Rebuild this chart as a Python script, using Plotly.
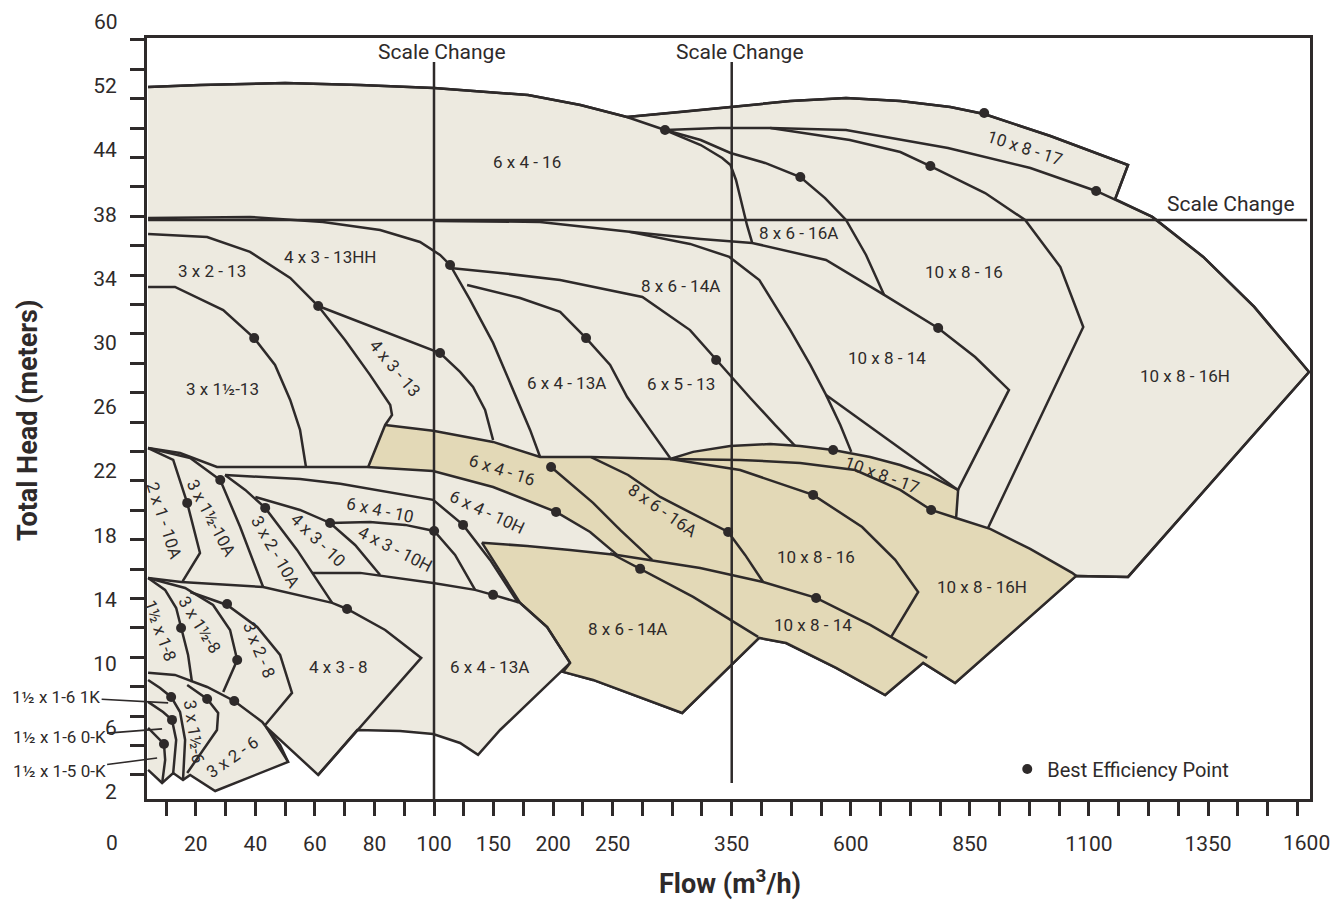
import numpy as np
import plotly.graph_objects as go

INK = "#2e2a2a"
LIGHT = "#edeae0"
TAN = "#e3d9b7"
FONT = "Roboto, Liberation Sans, Arial, sans-serif"

# ---------------- axes (the chart uses a piecewise "scale change" axis) -------------
FLOW_TICKS = [20, 40, 60, 80, 100, 150, 200, 250, 350, 600, 850, 1100, 1350]
HEAD_TICKS = [2, 6, 10, 14, 18, 22, 26, 30, 34, 38, 44, 52, 60]
FLOW_BREAKS = [0, 100, 350, 1600]
FLOW_STEPS = [0, 10, 20, 40]
FLOW_RANGE = [3.6, 1564]
HEAD_RANGE = [1.56, 57.96]


def fx(v):
    return np.interp(np.asarray(v, float), FLOW_BREAKS, FLOW_STEPS)


def fy(v):
    v = np.asarray(v, float)
    idx = np.arange(len(HEAD_TICKS), dtype=float)
    return np.where(v < HEAD_TICKS[0], (v - HEAD_TICKS[0]) / 4.0,
                    np.interp(v, HEAD_TICKS, idx))


# ---------------- coverage envelopes (flow m3/h, head m) ----------------
LIGHT_FLOW = [3.96, 21.4, 50.0, 75.2, 100, 179, 223, 262, 307, 349, 473, 590, 704, 809, 880, 1019,
              1182, 1155, 1233, 1340, 1447, 1562, 1182, 1073, 819, 785.5, 751.9, 672.1, 569.2,
              464.2, 407.5, 308.4, 262.2, 233.6, 208.4, 214.3, 155.5, 137.0, 121.9, 99.7, 88.6,
              74.2, 61.1, 43.6, 51.0, 26.5, 18.1, 15.7, 12.4, 8.67, 3.96]
LIGHT_HEAD = [51.85, 52.10, 52.35, 52.10, 51.73, 50.85, 49.61, 48.11, 48.73, 49.36, 50.11, 50.48,
              50.11, 49.36, 48.49, 45.74, 42.60, 39.42, 37.83, 35.34, 32.22, 28.17, 15.40, 15.46,
              8.79, 9.42, 10.04, 8.04, 9.73, 11.28, 11.60, 6.92, 8.17, 8.98, 9.48, 10.04, 5.86,
              4.31, 5.05, 5.61, 5.80, 5.86, 3.06, 6.05, 3.87, 2.06, 3.06, 2.75, 3.18, 2.56, 3.37]

TAN_FLOW = [83.6, 99.7, 149.6, 189.1, 231.9, 298.3, 317.6, 348.7, 430.6, 493.6, 562.9, 640.6,
            703.6, 766.6, 825.3, 821.1, 892.5, 976.5, 1064.7, 1073.1, 819.0, 785.5, 751.9, 672.1,
            569.2, 464.2, 407.5, 308.4, 262.2, 233.6, 208.4, 214.3, 195.0, 172.3, 140.4, 178.2,
            214.3, 253.8, 231.1, 202.5, 149.6, 99.7, 77.5]
TAN_HEAD = [24.87, 24.50, 23.81, 22.87, 22.87, 22.75, 23.19, 23.56, 23.68, 23.56, 23.31, 22.87,
            22.37, 21.69, 20.82, 19.07, 18.39, 17.14, 15.65, 15.46, 8.79, 9.42, 10.04, 8.04, 9.73,
            11.28, 11.60, 6.92, 8.17, 8.98, 9.48, 10.04, 12.28, 13.78, 17.52, 17.33, 17.08, 16.77,
            18.20, 19.45, 21.00, 22.00, 22.25]

# ---------------- pump curves (flow list, head list) ----------------
C_6X4_16_TOP = ([3.96, 21.4, 50.0, 75.2, 100, 179, 223, 262, 294],
                [51.85, 52.10, 52.35, 52.10, 51.73, 50.85, 49.61, 48.11, 46.49])
C_6X4_16_RIGHT = ([294, 324, 342, 349, 359, 372, 382, 393],
                  [46.49, 44.62, 43.25, 42.60, 41.20, 38.86, 37.33, 36.21])
C_8X6_16A_RIGHT = ([294, 324, 349, 420, 494, 546, 590, 632, 670],
                   [46.49, 45.25, 43.72, 42.79, 41.48, 39.51, 37.64, 35.46, 32.97])
C_10X8_16_RIGHT = ([294, 339, 431, 598, 704, 767, 882, 966, 1040, 1088, 888],
                   [46.49, 46.74, 46.74, 45.25, 43.81, 42.50, 39.98, 37.64, 34.71, 30.97, 18.45])
C_10X8_16H_TOP = ([431, 590, 804, 977, 1115, 1233, 1340, 1447, 1562, 1182, 1073],
                  [46.74, 46.49, 44.25, 42.32, 40.17, 37.83, 35.34, 32.22, 28.17, 15.40, 15.46])
C_10X8_17_TOP = ([262, 307, 349, 473, 590, 704, 809, 880, 1019, 1182, 1155],
                 [48.11, 48.73, 49.36, 50.11, 50.48, 50.11, 49.36, 48.49, 45.74, 42.60, 39.42])
C_4X3_13HH = ([3.96, 38.2, 62.7, 81.9, 95.3, 105.1, 113.5, 130.3, 149.6, 168.1, 180.7, 189.1],
              [37.77, 37.83, 37.52, 37.02, 36.27, 35.46, 34.84, 32.66, 29.98, 26.74, 24.56, 22.87])
C_10X8_14_TOP = ([100, 189, 264, 324, 393, 548, 670, 783, 861, 932, 825],
                 [37.58, 37.52, 36.90, 36.46, 36.21, 35.15, 32.97, 30.91, 29.10, 27.05, 20.82])
C_8X6_14A_RIGHT = ([264, 315, 348, 408, 473, 515, 548, 578, 601],
                   [36.90, 36.15, 35.34, 33.90, 30.78, 28.61, 26.74, 24.87, 23.19])
C_10X8_14_EDGE = ([548, 825], [26.74, 20.82])
C_6X5_13 = ([113.5, 155.5, 205.9, 275, 315, 337, 389, 441, 483],
            [34.65, 34.34, 33.90, 32.84, 30.78, 28.92, 26.55, 24.87, 23.56])
C_6X4_13A = ([127.8, 172.3, 205.9, 227.7, 247.9, 262.2, 281.5, 298.3],
             [33.59, 32.78, 31.91, 30.28, 28.61, 26.61, 24.56, 22.81])
C_4X3_13 = ([61.1, 79.5, 105.1, 121.9, 132.8, 142.9, 149.6],
            [32.28, 30.97, 29.35, 28.17, 27.24, 25.80, 23.93])
C_3X2_13 = ([3.96, 23.8, 38.2, 51.7, 61.1, 70.1, 78.5, 85.3, 85.9, 83.6, 77.9],
            [36.77, 36.58, 35.65, 34.03, 32.28, 30.16, 27.99, 26.11, 25.49, 24.87, 22.25])
C_3X1H_13 = ([3.96, 13.0, 29.2, 39.6, 46.6, 51.7, 55.0, 57.0],
             [33.47, 33.47, 32.03, 30.28, 28.61, 26.43, 24.56, 22.25])
C_13_BASE = ([3.96, 14.7, 27.1, 55.0, 77.5], [23.43, 23.12, 22.25, 22.25, 22.25])

C_2X1_10A = ([3.96, 12.4, 17.1, 21.4, 15.4], [23.43, 22.69, 20.01, 16.89, 15.08])
C_3X1H_10A = ([3.96, 18.1, 28.2, 34.9, 42.6], [23.43, 22.81, 21.44, 18.51, 14.77])
C_3X2_10A = ([29.8, 36.6, 43.3, 54.0, 65.8], [21.75, 20.82, 19.70, 17.08, 13.78])
C_4X3_10 = ([40.0, 55.0, 65.1, 73.5, 81.9], [20.38, 19.57, 18.76, 17.39, 15.52])
C_4X3_10H = ([65.1, 78.5, 90.3, 100.1, 117.7, 134.5], [18.76, 18.82, 18.64, 18.26, 16.77, 14.59])
C_6X4_10 = ([29.8, 55.0, 68.5, 99.7, 124.4, 147.1, 170.6],
            [21.75, 21.50, 21.20, 20.20, 18.64, 16.46, 13.78])
C_6X4_13A_LOW = ([59.0, 75.2, 99.7, 134.5, 149.6, 172.3, 195.0, 214.3],
                 [15.65, 15.65, 15.02, 14.59, 14.28, 13.78, 12.28, 10.04])
C_4X3_8 = ([3.96, 15.05, 42.6, 65.8, 70.8, 83.6, 95.7, 61.1],
           [15.33, 15.08, 14.77, 13.78, 13.40, 12.09, 10.35, 3.06])
C_3X1H_8 = ([3.96, 16.4, 25.8, 31.5, 33.9, 29.2], [15.33, 14.71, 13.65, 12.09, 10.22, 8.23])
C_1HX1_8 = ([3.96, 9.67, 13.4, 15.05, 17.4, 18.7], [15.33, 14.59, 13.46, 12.22, 10.54, 8.85])
C_3X2_8 = ([18.1, 30.5, 40.6, 48.3, 52.3, 43.3], [14.46, 13.65, 12.28, 10.54, 8.17, 6.17])
C_3X2_6 = ([3.96, 13.0, 23.8, 32.9, 42.3, 48.3, 51.0], [9.42, 9.29, 8.54, 7.67, 6.36, 4.93, 3.87])
C_3X1H_6 = ([17.1, 23.8, 27.5, 27.1, 17.1], [8.67, 7.79, 6.92, 5.86, 3.18])
C_1HX1_6_1K = ([3.96, 8.0, 11.7, 14.7, 16.4, 15.7], [8.98, 8.48, 7.92, 6.98, 5.24, 2.75])
C_1HX1_6_0K = ([3.96, 9.0, 12.0, 13.4, 12.4], [7.61, 6.98, 6.49, 5.24, 3.18])
C_1HX1_5_0K = ([3.96, 7.3, 9.3, 9.7, 8.7], [5.99, 5.36, 4.99, 3.99, 2.56])

C_6X4_16_LOW = ([198.3, 233.6, 256.3, 283.2], [22.25, 20.01, 18.33, 16.46])
C_8X6_14A_TOP = ([247.9, 273.1, 317.6, 405.4], [16.89, 15.90, 14.15, 11.66])
C_10X8_14_LOWTOP = ([253.8, 323.5, 415.9, 527.2, 640.6, 760.3],
                    [16.77, 15.96, 15.08, 14.09, 12.41, 10.35])
C_8X6_16A_LOW = ([231.9, 263.0, 289.9, 347.0, 378.1, 415.9],
                 [22.87, 21.75, 20.38, 18.20, 16.77, 15.08])
C_10X8_16_LOW = ([298.3, 367.6, 520.9, 623.8, 693.1, 741.4, 684.7],
                 [22.75, 22.06, 20.51, 18.51, 16.46, 14.46, 11.66])
C_10X8_16H_LOW = ([298.3, 367.6, 493.6, 609.1, 703.6, 768.7, 821.1],
                  [22.75, 22.69, 22.50, 22.06, 20.82, 19.57, 19.07])

CURVES = [C_6X4_16_TOP, C_6X4_16_RIGHT, C_8X6_16A_RIGHT, C_10X8_16_RIGHT, C_10X8_16H_TOP,
          C_10X8_17_TOP, C_4X3_13HH, C_10X8_14_TOP, C_8X6_14A_RIGHT, C_10X8_14_EDGE, C_6X5_13,
          C_6X4_13A, C_4X3_13, C_3X2_13, C_3X1H_13, C_13_BASE, C_2X1_10A, C_3X1H_10A, C_3X2_10A,
          C_4X3_10, C_4X3_10H, C_6X4_10, C_6X4_13A_LOW, C_4X3_8, C_3X1H_8, C_1HX1_8, C_3X2_8,
          C_3X2_6, C_3X1H_6, C_1HX1_6_1K, C_1HX1_6_0K, C_1HX1_5_0K, C_6X4_16_LOW, C_8X6_14A_TOP,
          C_10X8_14_LOWTOP, C_8X6_16A_LOW, C_10X8_16_LOW, C_10X8_16H_LOW]

# ---------------- scale change lines ----------------
SCALE_CHANGE_FLOWS = [100, 350]
SCALE_CHANGE_V_HEADS = [[1.56, 54.96], [2.56, 54.96]]
SCALE_CHANGE_HEAD = 37.64
SCALE_CHANGE_H_FLOWS = [3.96, 1558]

# ---------------- best efficiency points ----------------
BEP_FLOW = [294, 494, 767, 880, 1115, 113.5, 61.1, 39.6, 105.1, 227.7, 336.9, 783.4, 562.9,
            198.3, 202.5, 520.9, 768.7, 347.0, 273.1, 527.2, 124.4, 100.1, 65.1, 43.3, 28.2,
            17.1, 149.6, 70.8, 30.5, 15.05, 33.9, 11.7, 23.8, 32.9, 12.0, 9.3]
BEP_HEAD = [46.49, 41.48, 42.50, 48.61, 40.17, 34.84, 32.28, 30.28, 29.35, 30.28, 28.92, 30.91,
            23.31, 22.25, 19.45, 20.51, 19.57, 18.20, 15.90, 14.09, 18.64, 18.26, 18.76, 19.70,
            21.44, 20.01, 14.28, 13.40, 13.71, 12.22, 10.22, 7.92, 7.79, 7.67, 6.49, 4.99]

# ---------------- pump labels ----------------
LABEL_TEXT = ["6 x 4 - 16", "8 x 6 - 16A", "10 x 8 - 16", "10 x 8 - 17", "3 x 2 - 13",
              "4 x 3 - 13HH", "8 x 6 - 14A", "3 x 1½-13", "4 x 3 - 13", "6 x 4 - 13A",
              "6 x 5 - 13", "10 x 8 - 14", "10 x 8 - 16H", "6 x 4 - 16", "8 x 6 - 16A",
              "10 x 8 - 17", "10 x 8 - 16", "10 x 8 - 16H", "8 x 6 - 14A", "10 x 8 - 14",
              "6 x 4 - 10H", "6 x 4 - 10", "4 x 3 - 10H", "4 x 3 - 10", "3 x 2 - 10A",
              "3 x 1½-10A", "2 x 1 - 10A", "4 x 3 - 8", "6 x 4 - 13A", "1½ x 1-8", "3 x 1½-8",
              "3 x 2 - 8", "3 x 1½-6", "3 x 2 - 6"]
LABEL_FLOW = [178.2, 489.4, 837.9, 966.0, 25.5, 65.1, 306.7, 28.8, 86.9, 211.0, 307.6, 676.2,
              1301.9, 157.2, 291.6, 665.5, 527.2, 875.8, 262.2, 520.9, 144.6, 81.9, 87.0, 61.1,
              46.6, 25.2, 9.34, 67.8, 146.3, 8.0, 21.4, 41.3, 19.4, 32.2]
LABEL_HEAD = [42.88, 36.83, 34.40, 44.25, 34.46, 35.34, 33.53, 27.11, 28.42, 27.49, 27.42, 29.04,
              27.92, 22.06, 19.57, 21.75, 16.64, 14.77, 12.16, 12.41, 19.45, 19.57, 17.14, 17.70,
              17.00, 19.07, 18.95, 9.79, 9.79, 12.09, 12.41, 10.85, 5.80, 4.18]
LABEL_ANGLE = [0, 0, 0, 18, 0, 0, 0, 0, 50, 0, 0, 0, 0, 18, 35, 20, 0, 0, 0, 0, 25, 12, 27, 44,
               60, 62, 72, 0, 0, 70, 58, 68, 82, -35]

CALLOUT_TEXT = ["1½ x 1-6 1K", "1½ x 1-6 0-K", "1½ x 1-5 0-K"]
CALLOUT_FLOW = [10.7, 8.67, 7.0]
CALLOUT_HEAD = [7.55, 5.93, 4.12]

fig = go.Figure()

fig.add_trace(go.Scatter(x=fx(LIGHT_FLOW), y=fy(LIGHT_HEAD), mode="lines", fill="toself",
                         fillcolor=LIGHT, line=dict(color=INK, width=2.5),
                         hoverinfo="skip", showlegend=False))
fig.add_trace(go.Scatter(x=fx(TAN_FLOW), y=fy(TAN_HEAD), mode="lines", fill="toself",
                         fillcolor=TAN, line=dict(color=INK, width=2.5),
                         hoverinfo="skip", showlegend=False))
for fl, hd in CURVES:
    fig.add_trace(go.Scatter(x=fx(fl), y=fy(hd), mode="lines",
                             line=dict(color=INK, width=2.5), hoverinfo="skip",
                             showlegend=False))

for f, hs in zip(SCALE_CHANGE_FLOWS, SCALE_CHANGE_V_HEADS):
    fig.add_trace(go.Scatter(x=fx([f, f]), y=fy(hs), mode="lines",
                             line=dict(color=INK, width=2.5), hoverinfo="skip",
                             showlegend=False))
fig.add_trace(go.Scatter(x=fx(SCALE_CHANGE_H_FLOWS), y=fy([SCALE_CHANGE_HEAD] * 2), mode="lines",
                         line=dict(color=INK, width=2.5), hoverinfo="skip", showlegend=False))

fig.add_trace(go.Scatter(x=fx(BEP_FLOW), y=fy(BEP_HEAD), mode="markers",
                         marker=dict(color=INK, size=10), name="Best Efficiency Point",
                         hoverinfo="skip", showlegend=True))

ann = []
for t, f, h, a in zip(LABEL_TEXT, LABEL_FLOW, LABEL_HEAD, LABEL_ANGLE):
    ann.append(dict(x=float(fx(f)), y=float(fy(h)), text=t, textangle=a, showarrow=False,
                    font=dict(size=17, color=INK, family=FONT)))
for t, f, h, dx, dy in zip(CALLOUT_TEXT, CALLOUT_FLOW, CALLOUT_HEAD, [-112, -103, -98], [-6, 8, 13]):
    ann.append(dict(x=float(fx(f)), y=float(fy(h)), text=t, showarrow=True, arrowhead=0,
                    arrowwidth=1.6, arrowcolor=INK, ax=dx, ay=dy, standoff=0,
                    font=dict(size=17, color=INK, family=FONT)))

for f in SCALE_CHANGE_FLOWS:
    ann.append(dict(x=float(fx(f)), y=float(fy(54.96)), text="Scale Change", showarrow=False,
                    xshift=8, yanchor="bottom", yshift=-4, xanchor="center",
                    font=dict(size=21, color=INK, family=FONT)))
ann.append(dict(x=float(fx(1398)), y=float(fy(SCALE_CHANGE_HEAD)), text="Scale Change",
                showarrow=False, yanchor="bottom", xanchor="center", yshift=2,
                font=dict(size=21, color=INK, family=FONT)))

# axis end labels that sit outside the frame
ann.append(dict(xref="paper", yref="paper", x=-0.030, y=-0.058, text="0", showarrow=False,
                xanchor="center", yanchor="middle", font=dict(size=21, color=INK, family=FONT)))
ann.append(dict(xref="paper", yref="paper", x=0.9966, y=-0.058, text="1600", showarrow=False,
                xanchor="center", yanchor="middle", font=dict(size=21, color=INK, family=FONT)))
ann.append(dict(xref="paper", yref="paper", x=-0.0232, y=1.0216, text="60", showarrow=False,
                xanchor="right", yanchor="middle", font=dict(size=21, color=INK, family=FONT)))

ann.append(dict(xref="paper", yref="paper", x=-0.1023, y=0.498, text="<b>Total Head (meters)</b>",
                textangle=-90, showarrow=False, xanchor="center", yanchor="middle",
                font=dict(size=27, color=INK, family=FONT)))
ann.append(dict(xref="paper", yref="paper", x=0.5013, y=-0.109,
                text="<b>Flow (m<sup>3</sup>/h)</b>", showarrow=False,
                xanchor="center", yanchor="middle",
                font=dict(size=27, color=INK, family=FONT)))

fig.update_layout(
    width=1334, height=893,
    margin=dict(l=139, r=32, t=30, b=102),
    paper_bgcolor="white", plot_bgcolor="white",
    font=dict(family=FONT, color=INK),
    annotations=ann,
    showlegend=True,
    legend=dict(x=0.7397, y=0.0394, xanchor="left", yanchor="middle",
                bgcolor="rgba(0,0,0,0)", font=dict(size=20, color=INK, family=FONT)),
)
fig.update_xaxes(range=[float(fx(FLOW_RANGE[0])), float(fx(FLOW_RANGE[1]))],
                 tickvals=fx(FLOW_TICKS), ticktext=[str(t) for t in FLOW_TICKS],
                 ticks="outside", ticklen=14, tickcolor="rgba(0,0,0,0)",
                 tickfont=dict(size=21, color=INK, family=FONT),
                 showline=True, linewidth=3, linecolor=INK, mirror=True,
                 showgrid=False, zeroline=False, ticklabelstandoff=10,
                 minor=dict(ticks="outside", ticklen=14, tickwidth=2.5, tickcolor=INK,
                            tick0=0, dtick=1, showgrid=False))
fig.update_yaxes(range=[float(fy(HEAD_RANGE[0])), float(fy(HEAD_RANGE[1]))],
                 tickvals=fy(HEAD_TICKS[:-1]), ticktext=[str(t) for t in HEAD_TICKS[:-1]],
                 ticks="outside", ticklen=14, tickcolor="rgba(0,0,0,0)",
                 tickfont=dict(size=21, color=INK, family=FONT),
                 showline=True, linewidth=3, linecolor=INK, mirror=True,
                 showgrid=False, zeroline=False, ticklabelstandoff=9,
                 minor=dict(ticks="outside", ticklen=14, tickwidth=2.5, tickcolor=INK,
                            tick0=0.265, dtick=0.458, showgrid=False))

fig.write_html("out.html")
